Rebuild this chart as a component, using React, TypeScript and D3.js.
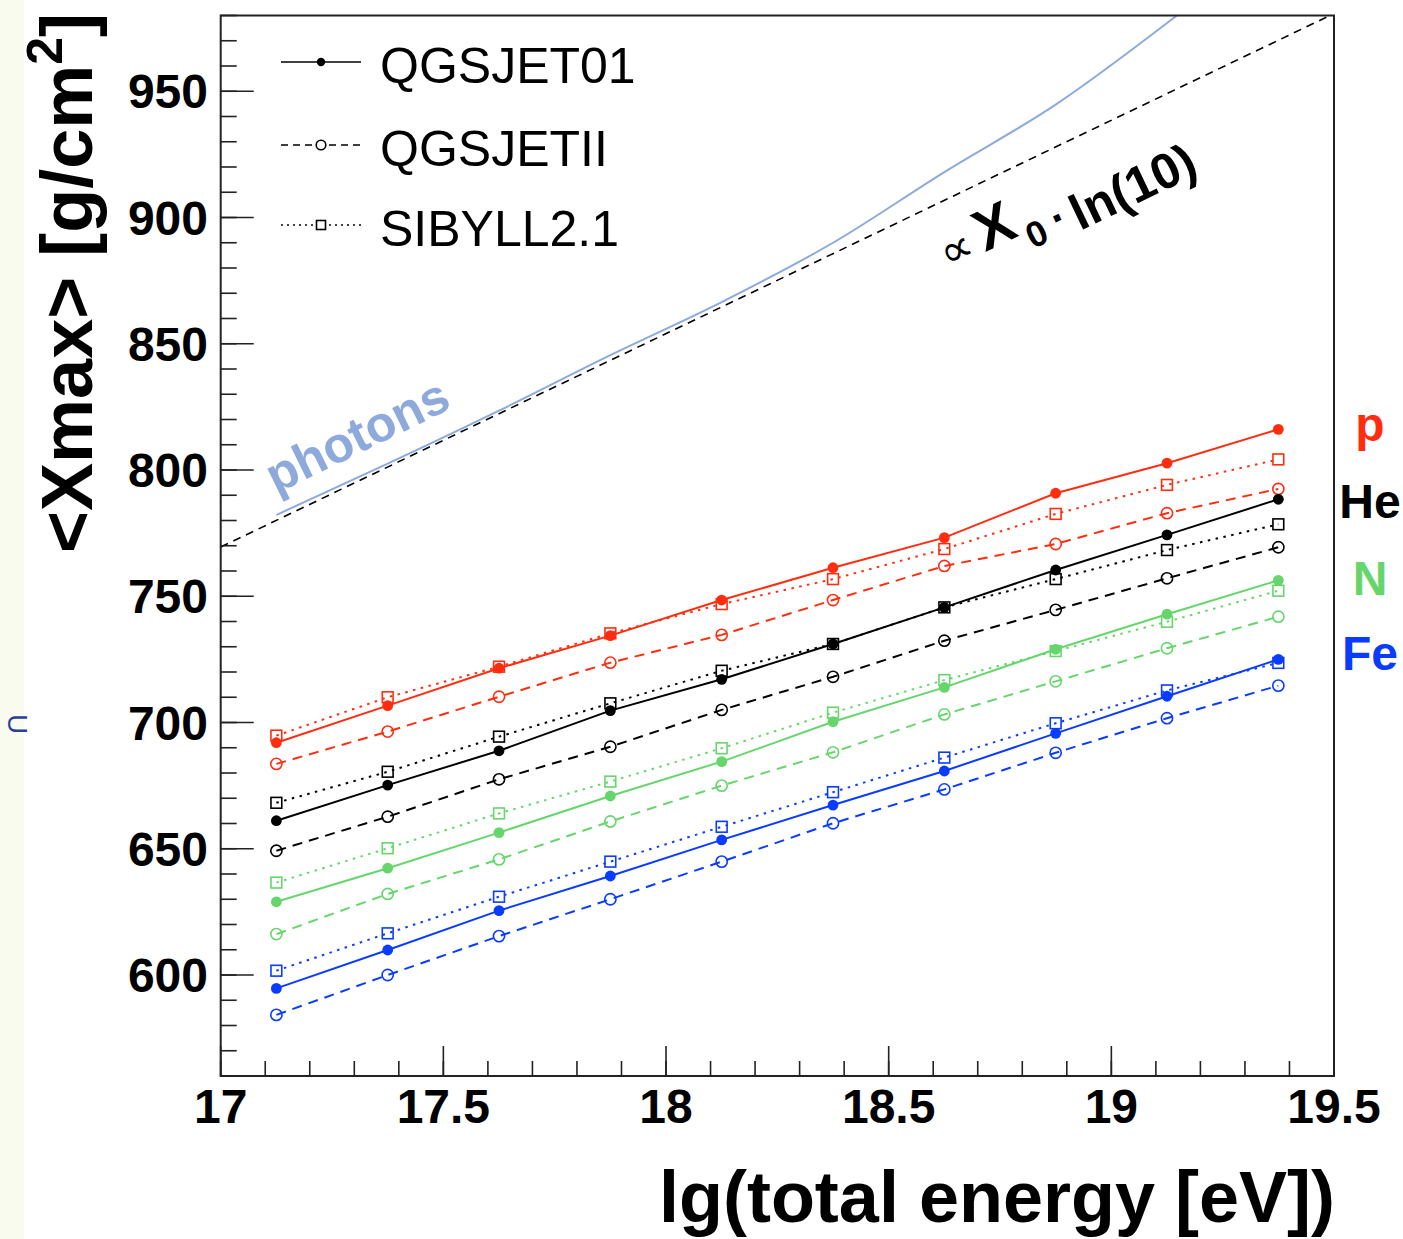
import React from 'react';
import * as d3 from 'd3';

// ---- data ----
const energy = [17.125, 17.375, 17.625, 17.875, 18.125, 18.375, 18.625, 18.875, 19.125, 19.375];

const pQGSJET01 = [692.0, 706.7, 721.5, 734.4, 748.5, 761.3, 773.2, 790.8, 802.7, 816.1];
const pQGSJETII = [683.6, 696.4, 710.2, 723.7, 734.7, 748.5, 762.0, 770.7, 782.9, 792.5];
const pSIBYLL = [694.8, 710.0, 722.1, 735.3, 746.9, 756.8, 768.7, 782.6, 794.1, 804.2];

const heQGSJET01 = [661.1, 675.2, 688.8, 704.7, 717.1, 731.1, 745.6, 760.4, 774.3, 788.4];
const heQGSJETII = [649.2, 662.7, 677.5, 690.4, 705.0, 718.1, 732.4, 744.6, 757.1, 769.4];
const heSIBYLL = [668.2, 680.5, 694.4, 707.6, 720.5, 731.1, 745.6, 756.8, 768.3, 778.5];

const nQGSJET01 = [629.0, 642.3, 656.4, 670.9, 684.5, 700.3, 713.9, 729.0, 742.9, 756.3];
const nQGSJETII = [616.2, 632.1, 645.8, 660.8, 675.0, 688.2, 703.2, 716.3, 729.4, 741.9];
const nSIBYLL = [636.6, 650.2, 664.0, 676.6, 689.8, 703.9, 716.8, 728.3, 739.9, 752.2];

const feQGSJET01 = [594.7, 609.9, 625.5, 639.2, 653.5, 667.3, 680.8, 695.7, 710.4, 725.0];
const feQGSJETII = [584.2, 600.0, 615.4, 630.0, 644.9, 660.1, 673.5, 688.0, 701.7, 714.6];
const feSIBYLL = [601.7, 616.5, 631.0, 644.9, 658.7, 672.4, 686.1, 699.7, 712.7, 723.6];

const photons = [782.2, 802.5, 823.5, 845.5, 866.5, 890.0, 918.0, 944.7, 977.0, 1012.0];

const refLineX = [17, 19.5];
const refLineY = [769.5, 980.75];

const xTicks = [17, 17.5, 18, 18.5, 19, 19.5];
const xTickLabels = ['17', '17.5', '18', '18.5', '19', '19.5'];
const yTicks = [600, 650, 700, 750, 800, 850, 900, 950];
const yTickLabels = ['600', '650', '700', '750', '800', '850', '900', '950'];

const models = ['QGSJET01', 'QGSJETII', 'SIBYLL2.1'];
const primaries = ['p', 'He', 'N', 'Fe'];
const primaryColors = ['#ff2d10', '#000000', '#66d66c', '#0a3cff'];

const seriesTable = [
  [pQGSJET01, pQGSJETII, pSIBYLL],
  [heQGSJET01, heQGSJETII, heSIBYLL],
  [nQGSJET01, nQGSJETII, nSIBYLL],
  [feQGSJET01, feQGSJETII, feSIBYLL],
];

// ---- layout ----
const W = 1403;
const H = 1239;
const left = 220.7;
const right = 1334;
const top = 15.5;
const bottom = 1076;
const FONT = '"Liberation Sans", Arial, Helvetica, sans-serif';

const dashFor = ['none', '10,7', '2.5,5.5'];

export default function App() {
  const x = d3.scaleLinear().domain([17, 19.5]).range([left, right]);
  const y = d3.scaleLinear().domain([560, 980]).range([bottom, top]);

  const line = d3
    .line<number>()
    .x((_, i) => x(energy[i]))
    .y((d) => y(d));

  const refLine = d3
    .line<number>()
    .x((_, i) => x(refLineX[i]))
    .y((d) => y(d));

  const photonLine = d3
    .line<number>()
    .x((_, i) => x(energy[i]))
    .y((d) => y(d))
    .curve(d3.curveMonotoneX);

  const xMinor = d3.range(17, 19.5001, 0.1);
  const yMinor = d3.range(560, 980.001, 10);

  const marker = (mi: number, cx: number, cy: number, color: string, key: string, small = false) => {
    if (mi === 0) {
      return <circle key={key} cx={cx} cy={cy} r={small ? 4.2 : 5.4} fill={color} />;
    }
    if (mi === 1) {
      return (
        <circle key={key} cx={cx} cy={cy} r={small ? 4.8 : 5.6} fill="none" stroke={color} strokeWidth={1.6} />
      );
    }
    const s = small ? 9 : 10.8;
    return (
      <rect key={key} x={cx - s / 2} y={cy - s / 2} width={s} height={s} fill="none" stroke={color} strokeWidth={1.6} />
    );
  };

  // draw order: SIBYLL, QGSJETII, QGSJET01
  const drawOrder = [2, 1, 0];

  return (
    <div style={{ position: 'absolute', left: 0, top: 0 }}>
      <svg width={W} height={H} viewBox={`0 0 ${W} ${H}`} style={{ display: 'block', background: '#ffffff' }}>
        <defs>
          <clipPath id="plotClip">
            <rect x={left} y={top} width={right - left} height={bottom - top} />
          </clipPath>
        </defs>
        <rect x={0} y={0} width={24} height={H} fill="#f8fbee" />
        <text
          transform="translate(8,724) rotate(90)"
          fontFamily={FONT}
          fontSize={28}
          fill="#2a3f9a"
          textAnchor="middle"
        >
          U
        </text>

        {/* reference lines */}
        <g clipPath="url(#plotClip)">
          <path d={refLine(refLineY) || ''} fill="none" stroke="#000" strokeWidth={1.6} strokeDasharray="8,6" />
          <path d={photonLine(photons) || ''} fill="none" stroke="#8eaadc" strokeWidth={2} />
        </g>

        {/* series */}
        <g>
          {primaries.map((p, pi) =>
            drawOrder.map((mi) => {
              const vals = seriesTable[pi][mi];
              const color = primaryColors[pi];
              return (
                <g key={`${p}-${mi}`}>
                  <path
                    d={line(vals) || ''}
                    fill="none"
                    stroke={color}
                    strokeWidth={2}
                    strokeDasharray={dashFor[mi]}
                  />
                  {vals.map((v, i) => marker(mi, x(energy[i]), y(v), color, `${p}-${mi}-${i}`))}
                </g>
              );
            })
          )}
        </g>

        {/* frame */}
        <rect x={left} y={top} width={right - left} height={bottom - top} fill="none" stroke="#222" strokeWidth={2} />

        {/* x ticks */}
        {xMinor.map((t, i) => (
          <line key={`xm${i}`} x1={x(t)} x2={x(t)} y1={bottom} y2={bottom - 15} stroke="#222" strokeWidth={1.6} />
        ))}
        {xTicks.map((t, i) => (
          <line key={`xM${i}`} x1={x(t)} x2={x(t)} y1={bottom} y2={bottom - 30} stroke="#222" strokeWidth={1.6} />
        ))}
        {xTicks.map((t, i) => (
          <text
            key={`xl${i}`}
            x={x(t)}
            y={1123}
            textAnchor="middle"
            fontFamily={FONT}
            fontWeight="bold"
            fontSize={48}
            fill="#000"
          >
            {xTickLabels[i]}
          </text>
        ))}

        {/* y ticks */}
        {yMinor.map((t, i) => (
          <line key={`ym${i}`} x1={left} x2={left + 16} y1={y(t)} y2={y(t)} stroke="#222" strokeWidth={1.6} />
        ))}
        {yTicks.map((t, i) => (
          <line key={`yM${i}`} x1={left} x2={left + 33} y1={y(t)} y2={y(t)} stroke="#222" strokeWidth={1.6} />
        ))}
        {yTicks.map((t, i) => (
          <text
            key={`yl${i}`}
            x={208}
            y={y(t) + 17}
            textAnchor="end"
            fontFamily={FONT}
            fontWeight="bold"
            fontSize={48}
            fill="#000"
          >
            {yTickLabels[i]}
          </text>
        ))}

        {/* axis titles */}
        <text
          x={1335}
          y={1222}
          textAnchor="end"
          fontFamily={FONT}
          fontWeight="bold"
          fontSize={72}
          fill="#000"
        >
          lg(total energy [eV])
        </text>
        <text
          transform="translate(92,553) rotate(-90)"
          textAnchor="start"
          fontFamily={FONT}
          fontWeight="bold"
          fontSize={72}
          fill="#000"
        >
          {'<Xmax> [g/cm'}
          <tspan fontSize={50} dy={-30}>2</tspan>
          <tspan dy={30}>]</tspan>
        </text>

        {/* legend */}
        {models.map((m, mi) => {
          const ly = [62, 145, 225][mi];
          return (
            <g key={`leg${mi}`}>
              <line
                x1={281}
                x2={361}
                y1={ly}
                y2={ly}
                stroke="#000"
                strokeWidth={1.5}
                strokeDasharray={mi === 0 ? 'none' : mi === 1 ? '7,5' : '2,4'}
              />
              {mi === 1 || mi === 2 ? (
                <rect x={313} y={ly - 8} width={16} height={16} fill="#fff" />
              ) : null}
              {marker(mi, 321, ly, '#000', `lm${mi}`, true)}
              <text x={380} y={ly + 21} fontFamily={FONT} fontSize={50} fill="#000">
                {m}
              </text>
            </g>
          );
        })}

        {/* annotations */}
        <text
          transform="translate(276,494) rotate(-26)"
          fontFamily={FONT}
          fontWeight="bold"
          fontSize={50}
          fill="#8eaadc"
        >
          photons
        </text>
        <text transform="translate(948,270) rotate(-25.6)" fontFamily={FONT} fill="#000">
          <tspan fontSize={46}>∝</tspan>
          <tspan dx={8} fontSize={58} fontWeight="bold">X</tspan>
          <tspan dx={6} fontSize={36} fontWeight="bold" dy={18}>0</tspan>
        </text>
        <text transform="translate(1058,234) rotate(-25.6)" fontFamily={FONT} fill="#000">
          <tspan fontSize={44} fontWeight="bold">·</tspan>
        </text>
        <text transform="translate(1080,231) rotate(-25.6)" fontFamily={FONT} fill="#000">
          <tspan fontSize={50} fontWeight="bold">ln(10)</tspan>
        </text>

        {/* primary labels */}
        {primaries.map((p, pi) => (
          <text
            key={`pl${pi}`}
            x={1370}
            y={[441, 518, 595, 670][pi]}
            textAnchor="middle"
            fontFamily={FONT}
            fontWeight="bold"
            fontSize={48}
            fill={primaryColors[pi]}
          >
            {p}
          </text>
        ))}
      </svg>
    </div>
  );
}
